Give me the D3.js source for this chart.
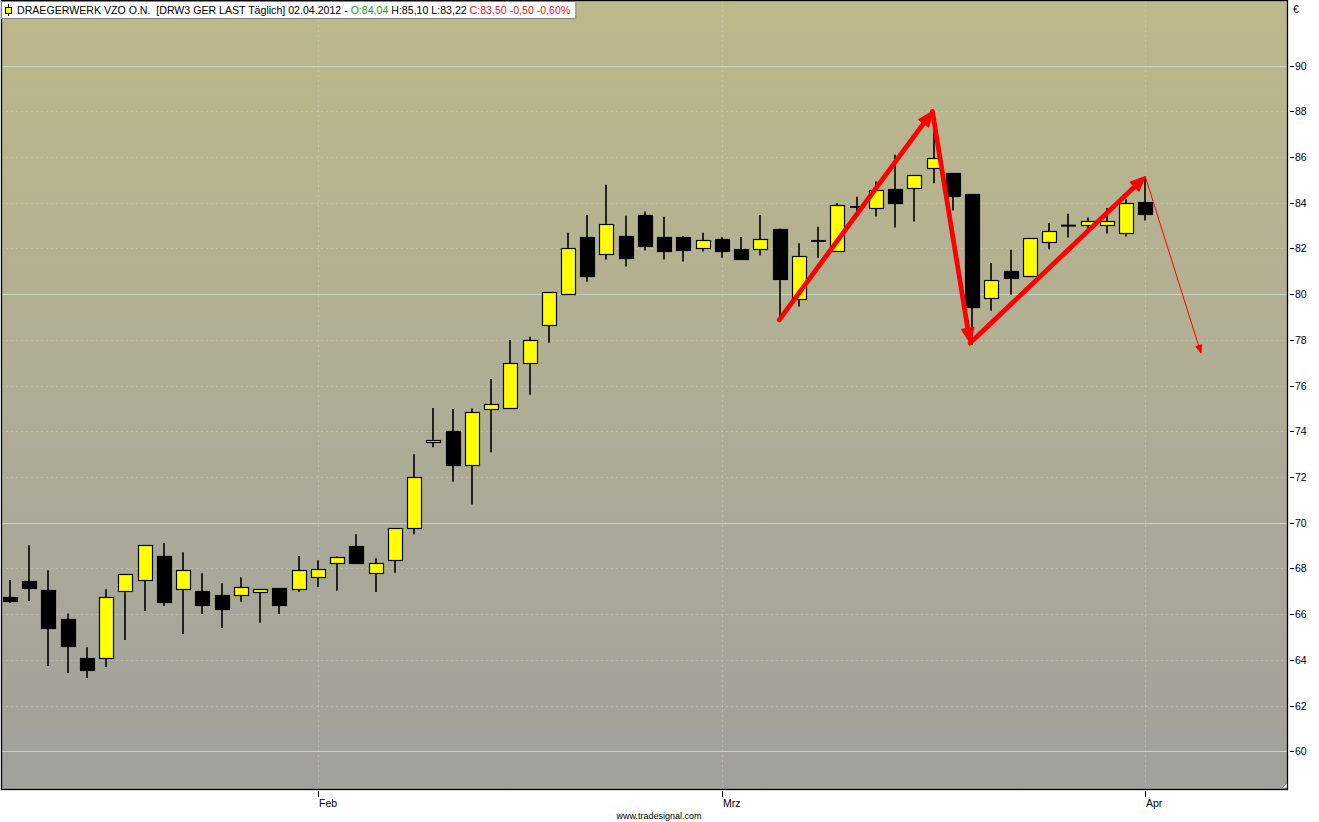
<!DOCTYPE html>
<html>
<head>
<meta charset="utf-8">
<script src="https://cdn.jsdelivr.net/npm/d3@7/dist/d3.min.js"></script>
<style>
  html, body { margin: 0; padding: 0; background: #ffffff; }
  svg { display: block; }
  text { font-family: "Liberation Sans", Arial, sans-serif; }
</style>
</head>
<body>
<svg id="chart" width="1319" height="822"></svg>
<script>
// ---------------- DATA ----------------
const dates = [
  "2012-01-10","2012-01-11","2012-01-12","2012-01-13",
  "2012-01-16","2012-01-17","2012-01-18","2012-01-19","2012-01-20",
  "2012-01-23","2012-01-24","2012-01-25","2012-01-26","2012-01-27",
  "2012-01-30","2012-01-31",
  "2012-02-01","2012-02-02","2012-02-03",
  "2012-02-06","2012-02-07","2012-02-08","2012-02-09","2012-02-10",
  "2012-02-13","2012-02-14","2012-02-15","2012-02-16","2012-02-17",
  "2012-02-20","2012-02-21","2012-02-22","2012-02-23","2012-02-24",
  "2012-02-27","2012-02-28","2012-02-29",
  "2012-03-01","2012-03-02",
  "2012-03-05","2012-03-06","2012-03-07","2012-03-08","2012-03-09",
  "2012-03-12","2012-03-13","2012-03-14","2012-03-15","2012-03-16",
  "2012-03-19","2012-03-20","2012-03-21","2012-03-22","2012-03-23",
  "2012-03-26","2012-03-27","2012-03-28","2012-03-29","2012-03-30",
  "2012-04-02"
];
const opens = [
  66.74,67.44,67.05,65.78,64.07,64.10,67.00,67.50,68.54,67.08,
  67.00,66.83,66.86,66.99,67.13,67.12,67.64,68.26,68.98,67.82,
  68.35,69.79,73.52,74.01,72.51,74.99,75.01,76.98,78.64,80.00,
  82.50,81.75,82.55,83.47,82.50,82.50,82.00,82.41,81.97,81.97,
  82.86,79.78,82.33,81.88,83.82,83.77,84.60,84.64,85.52,85.30,
  84.38,79.82,81.02,80.79,82.28,83.00,83.02,83.02,82.67,84.04
];
const highs = [
  67.49,69.02,67.92,66.03,64.55,67.09,67.74,69.02,69.11,68.71,
  67.79,67.35,67.62,67.09,67.13,68.54,68.36,68.52,69.50,68.45,
  69.75,73.00,75.02,74.98,75.00,76.29,78.00,78.14,80.09,82.69,
  83.47,84.79,83.43,83.62,83.39,82.55,82.69,82.50,82.50,83.47,
  82.86,82.23,82.95,83.99,84.26,84.93,86.10,85.21,87.63,85.30,
  84.38,81.37,81.94,82.45,83.12,83.52,83.36,83.77,84.16,85.10
];
const lows = [
  66.49,66.58,63.73,63.43,63.21,63.69,64.87,66.14,66.36,65.13,
  66.01,65.40,66.54,65.62,66.01,66.97,67.19,67.02,68.20,66.97,
  67.81,69.50,73.30,71.79,70.80,73.08,75.01,75.60,77.88,80.00,
  80.55,81.52,81.21,81.91,81.52,81.43,81.87,81.60,81.56,81.69,
  78.80,79.46,81.59,81.88,83.61,83.40,82.92,83.18,84.86,83.66,
  77.78,79.28,79.98,80.79,81.97,82.48,82.74,82.66,82.52,83.22
];
const closes = [
  66.58,67.15,65.40,64.61,63.56,66.73,67.74,69.02,66.54,67.95,
  66.40,66.23,67.17,67.09,66.40,67.95,67.99,68.52,68.24,68.26,
  69.75,72.00,73.62,72.54,74.83,75.18,76.98,77.99,80.09,82.01,
  80.81,83.07,81.60,82.09,81.87,81.95,82.37,81.91,81.56,82.41,
  80.66,81.66,82.33,83.90,83.82,84.56,84.01,85.21,85.96,84.28,
  79.46,80.61,80.70,82.45,82.76,83.00,83.20,83.20,83.99,83.50
];
// price axis ticks
const yTicks = [60,62,64,66,68,70,72,74,76,78,80,82,84,86,88,90];
const yMajor = [60,70,80,90];
// month labels (bar index of the first trading day of each month)
const monthIdx = [16,37,59];
const monthLabels = ["Feb","Mrz","Apr"];
// drawn trend arrows: [barIndex, price] pairs
const thickArrows = [
  [[39.98,78.88],[47.94,88.00]],
  [[47.94,88.00],[49.90,77.86]],
  [[49.90,77.86],[59.00,85.15]]
];
const thinArrows = [
  [[59.00,85.15],[61.90,77.42]]
];
const headerParts = [
  {t:"DRAEGERWERK VZO O.N.  [DRW3 GER LAST Täglich] 02.04.2012 - ", c:"#000000"},
  {t:"O:84,04", c:"#1aa31a"},
  {t:" H:85,10 L:83,22 ", c:"#000000"},
  {t:"C:83,50 -0,50 -0,60%", c:"#e8141e"}
];

// ---------------- LAYOUT ----------------
const svg = d3.select("#chart");
const P = {left:1, right:1288, top:0, bottom:789};

const x = d3.scaleLinear().domain([-0.468, 66.42]).range([P.left, P.right]);
const y = d3.scaleLinear().domain([58.35, 92.873]).range([P.bottom, P.top]);

const defs = svg.append("defs");
const grad = defs.append("linearGradient").attr("id","bg").attr("x1",0).attr("y1",0).attr("x2",0).attr("y2",1);
grad.append("stop").attr("offset","0%").attr("stop-color","#bdb98a");
grad.append("stop").attr("offset","55%").attr("stop-color","#aeac97");
grad.append("stop").attr("offset","100%").attr("stop-color","#a1a19d");
defs.append("clipPath").attr("id","clip").append("rect")
  .attr("x",P.left).attr("y",P.top).attr("width",P.right-P.left).attr("height",P.bottom-P.top);

svg.append("rect").attr("x",P.left).attr("y",P.top)
  .attr("width",P.right-P.left).attr("height",P.bottom-P.top)
  .attr("fill","url(#bg)");

const plot = svg.append("g").attr("clip-path","url(#clip)");

// grid
const crisp = v => Math.round(v) + 0.5;
plot.selectAll("line.minor").data(yTicks.filter(v => !yMajor.includes(v))).join("line")
  .attr("x1",P.left).attr("x2",P.right)
  .attr("y1",d=>crisp(y(d))).attr("y2",d=>crisp(y(d)))
  .attr("stroke","#d4d2c0").attr("stroke-opacity",0.45)
  .attr("stroke-dasharray","2,3");
plot.selectAll("line.major").data(yMajor).join("line")
  .attr("x1",P.left).attr("x2",P.right)
  .attr("y1",d=>crisp(y(d))).attr("y2",d=>crisp(y(d)))
  .attr("stroke","#c6d8c6");
plot.selectAll("line.vgrid").data(monthIdx).join("line")
  .attr("x1",d=>crisp(x(d))).attr("x2",d=>crisp(x(d)))
  .attr("y1",P.top).attr("y2",P.bottom)
  .attr("stroke","#d4d2c0").attr("stroke-opacity",0.45)
  .attr("stroke-dasharray","2,3");

// candles
const bars = dates.map((d,i)=>({i, o:opens[i], h:highs[i], l:lows[i], c:closes[i]}));
const bw = 14;
const g = plot.append("g");
const cg = g.selectAll("g.c").data(bars).join("g");
cg.append("line")
  .attr("x1",d=>Math.round(x(d.i))).attr("x2",d=>Math.round(x(d.i)))
  .attr("y1",d=>y(d.h)).attr("y2",d=>y(d.l))
  .attr("stroke","#000").attr("stroke-width",1.6);
cg.filter(d=>Math.abs(d.o-d.c) >= 0.02).append("rect")
  .attr("x",d=>Math.round(x(d.i)) - bw/2 + 0.5)
  .attr("y",d=>Math.round(y(Math.max(d.o,d.c))) + 0.5)
  .attr("width",bw)
  .attr("height",d=>Math.max(2, Math.round(y(Math.min(d.o,d.c))) - Math.round(y(Math.max(d.o,d.c)))))
  .attr("fill",d=>d.c>d.o ? "#ffff00" : "#000000")
  .attr("stroke","#000").attr("stroke-width",1.2);
cg.filter(d=>Math.abs(d.o-d.c) < 0.02).append("line")
  .attr("x1",d=>Math.round(x(d.i)) - bw/2).attr("x2",d=>Math.round(x(d.i)) + bw/2 + 1)
  .attr("y1",d=>y(d.c)).attr("y2",d=>y(d.c))
  .attr("stroke","#000").attr("stroke-width",2);

// arrows
function arrow(seg, width, headLen, headHalf) {
  const x0 = x(seg[0][0]), y0 = y(seg[0][1]);
  const x1 = x(seg[1][0]), y1 = y(seg[1][1]);
  const dx = x1-x0, dy = y1-y0, L = Math.hypot(dx,dy);
  const ux = dx/L, uy = dy/L, nx = -uy, ny = ux;
  const bx = x1 - ux*headLen, by = y1 - uy*headLen;
  plot.append("line").attr("x1",x0).attr("y1",y0)
    .attr("x2",x1 - ux*headLen*0.6).attr("y2",y1 - uy*headLen*0.6)
    .attr("stroke","#ff0000").attr("stroke-width",width).attr("stroke-linecap","round");
  plot.append("path")
    .attr("d",`M${x1},${y1}L${bx+nx*headHalf},${by+ny*headHalf}L${bx-nx*headHalf},${by-ny*headHalf}Z`)
    .attr("fill","#ff0000").attr("stroke","#ff0000").attr("stroke-width",1).attr("stroke-linejoin","round");
}
thickArrows.forEach(s=>arrow(s, 4.8, 15, 6.5));
thinArrows.forEach(s=>arrow(s, 1, 8, 3));

// frame
svg.append("rect").attr("x",P.left+0.5).attr("y",P.top+0.5)
  .attr("width",P.right-P.left-1).attr("height",P.bottom-P.top)
  .attr("fill","none").attr("stroke","#000").attr("stroke-width",1.3);
// resize grip
svg.append("path").attr("d",`M${P.right-6},${P.bottom-1}L${P.right-1},${P.bottom-6}L${P.right-1},${P.bottom-1}Z`)
  .attr("fill","#ffffff").attr("stroke","#555").attr("stroke-width",0.6);

// right axis
const ya = svg.append("g");
yTicks.forEach(v=>{
  const yy = crisp(y(v));
  ya.append("line").attr("x1",P.right+2).attr("x2",P.right+6).attr("y1",yy).attr("y2",yy)
    .attr("stroke","#000");
  ya.append("text").attr("x",P.right+7).attr("y",yy+3.8)
    .attr("font-size","10.5px").attr("fill","#000").text(v);
});
ya.append("text").attr("x",P.right+5).attr("y",13).attr("font-size","10.5px").text("€");

// bottom axis
const xa = svg.append("g");
monthIdx.forEach((m,k)=>{
  const xx = crisp(x(m));
  xa.append("line").attr("x1",xx).attr("x2",xx).attr("y1",P.bottom+2).attr("y2",P.bottom+8).attr("stroke","#000");
  xa.append("text").attr("x",xx+0.5).attr("y",P.bottom+18).attr("font-size","10.5px").text(monthLabels[k]);
});
svg.append("text").attr("x",659).attr("y",819).attr("text-anchor","middle")
  .attr("font-size","9px").attr("fill","#000").text("www.tradesignal.com");

// header
const hdr = svg.append("g");
const hbox = hdr.append("rect").attr("x",1.5).attr("y",1.5).attr("height",17)
  .attr("fill","#ffffff").attr("stroke","#808080").attr("stroke-width",1);
// small candle icon
hdr.append("line").attr("x1",8.5).attr("x2",8.5).attr("y1",4).attr("y2",16).attr("stroke","#000");
hdr.append("rect").attr("x",5.5).attr("y",7.5).attr("width",6).attr("height",6)
  .attr("fill","#ffff00").attr("stroke","#000");
const ht = hdr.append("text").attr("x",17).attr("y",14).attr("font-size","10.6px");
headerParts.forEach(p=>ht.append("tspan").attr("fill",p.c).attr("xml:space","preserve").text(p.t));
const tw = ht.node().getComputedTextLength();
hbox.attr("width", 17 + tw + 4);
</script>
</body>
</html>
